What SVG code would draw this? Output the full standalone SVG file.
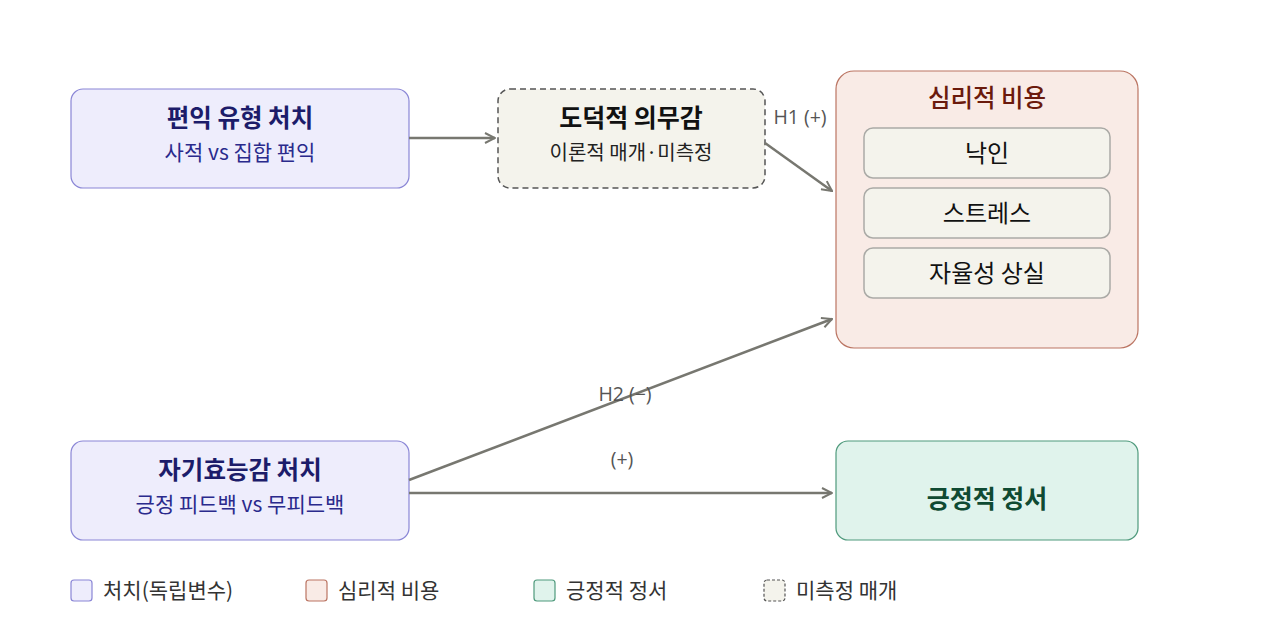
<svg xmlns="http://www.w3.org/2000/svg" width="1280" height="640" viewBox="0 0 1280 640">
<defs>
<marker id="arr" viewBox="0 0 12 12" refX="11" refY="6" markerWidth="12" markerHeight="12" markerUnits="userSpaceOnUse" orient="auto">
<path d="M1,1 L11,6 L1,11" fill="none" stroke="#777770" stroke-width="2"/>
</marker>
<style>
text{font-family:"Noto Sans CJK KR","Noto Sans",sans-serif;text-anchor:middle}
.treat{fill:#eeedfc;stroke:#8a86d6;stroke-width:1.2}
.cost{fill:#f9ebe6;stroke:#bb7563;stroke-width:1.2}
.pos{fill:#e0f3ec;stroke:#4f9a7c;stroke-width:1.2}
.med{fill:#f4f3ec;stroke:#555;stroke-width:1.5;stroke-dasharray:6 4}
.sub{fill:#f4f3ec;stroke:#aaaaa6;stroke-width:1.5}
.tt{font-size:24.5px;font-weight:700;fill:#1c1c6a}
.ts{font-size:21px;fill:#2a2a8c}
.lbl{font-family:"Open Sans","Noto Sans CJK KR",sans-serif;font-size:19.5px;fill:#555}
.leg{font-size:21px;fill:#333;text-anchor:start}
.inner{font-size:24px;fill:#111}
.edge{stroke:#777770;stroke-width:2.5;fill:none}
</style>
</defs>
<rect width="1280" height="640" fill="#ffffff"/>
<g id="node-benefit">
<rect class="treat" x="71" y="89" width="338" height="99" rx="12"/>
<text class="tt" x="240" y="127">편익 유형 처치</text>
<text class="ts" x="240" y="160">사적 vs 집합 편익</text>
</g>
<g id="node-moral">
<rect class="med" x="498" y="89" width="267" height="99" rx="12"/>
<text x="631" y="127" style="font-size:25px;font-weight:700;fill:#111">도덕적 의무감</text>
<text x="631" y="160" style="font-size:20px;fill:#222">이론적 매개·미측정</text>
</g>
<g id="node-cost">
<rect class="cost" x="836" y="71" width="302" height="277" rx="18"/>
<text x="987" y="107" style="font-size:24.5px;font-weight:500;fill:#6b1a0c">심리적 비용</text>
<rect class="sub" x="864" y="128" width="246" height="50" rx="9"/>
<text class="inner" x="987" y="162">낙인</text>
<rect class="sub" x="864" y="188" width="246" height="50" rx="9"/>
<text class="inner" x="987" y="222">스트레스</text>
<rect class="sub" x="864" y="248" width="246" height="50" rx="9"/>
<text class="inner" x="987" y="282">자율성 상실</text>
</g>
<g id="node-efficacy">
<rect class="treat" x="71" y="441" width="338" height="99" rx="12"/>
<text class="tt" x="240" y="479">자기효능감 처치</text>
<text class="ts" x="240" y="512">긍정 피드백 vs 무피드백</text>
</g>
<g id="node-positive">
<rect class="pos" x="836" y="441" width="302" height="99" rx="12"/>
<text x="987" y="508" style="font-size:25px;font-weight:700;fill:#0f4a32">긍정적 정서</text>
</g>
<g id="connectors">
<line class="edge" x1="409" y1="138" x2="495" y2="138" marker-end="url(#arr)"/>
<line class="edge" x1="765" y1="143" x2="832" y2="191" marker-end="url(#arr)"/>
<line class="edge" x1="409" y1="480" x2="832" y2="319" marker-end="url(#arr)"/>
<line class="edge" x1="409" y1="493" x2="832" y2="493" marker-end="url(#arr)"/>
<text class="lbl" x="800" y="124">H1 (+)</text>
<text class="lbl" x="625" y="401">H2 (−)</text>
<text class="lbl" x="622" y="466">(+)</text>
</g>
<g id="legend">
<rect class="treat" x="71" y="580" width="21" height="21" rx="3"/>
<text class="leg" x="103" y="598">처치(독립변수)</text>
<rect class="cost" x="306" y="580" width="21" height="21" rx="3"/>
<text class="leg" x="338" y="598">심리적 비용</text>
<rect class="pos" x="534" y="580" width="21" height="21" rx="3"/>
<text class="leg" x="566" y="598">긍정적 정서</text>
<rect class="med" x="764" y="580" width="21" height="21" rx="3" style="stroke-dasharray:3 2;stroke-width:1.2"/>
<text class="leg" x="796" y="598">미측정 매개</text>
</g>
</svg>
